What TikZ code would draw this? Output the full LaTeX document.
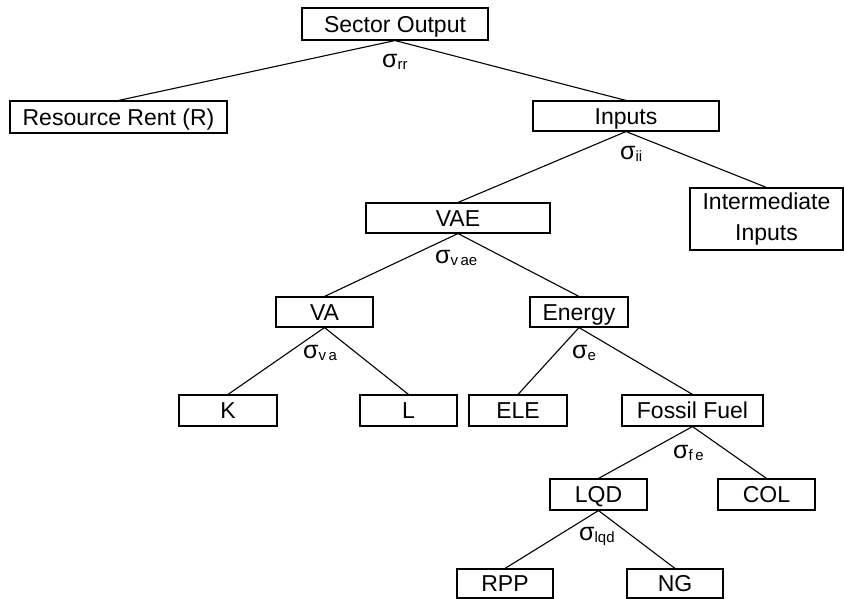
\documentclass[tikz,border=0pt]{standalone}
\usepackage{fontspec}
\setmainfont{Liberation Sans}
\begin{document}
\begin{tikzpicture}[x=1pt,y=-1pt,
  frame/.style={draw, line width=1.1pt, inner sep=0pt, align=center,
    font=\fontsize{23}{30}\selectfont},
  box/.style={frame, minimum height=#1, text height=16.5pt, text depth=0pt},
  box/.default=31pt,
  link/.style={line width=1.1pt},
  sig/.style={anchor=base west, inner sep=0pt, font=\fontsize{25}{25}\selectfont}]
\newcommand{\subsc}[1]{\raisebox{-2pt}{\fontsize{15}{15}\selectfont #1}}
\useasboundingbox (0,0) rectangle (844,599);

% tree nodes
\node[box=32pt, minimum width=186pt] (so)  at (395,24)    {Sector Output};
\node[box=32pt, minimum width=217pt] (rr)  at (118.5,117) {Resource Rent (R)};
\node[box=30pt, minimum width=186pt] (inp) at (626,116)   {Inputs};
\node[frame, minimum width=153pt, minimum height=62pt] (ii) at (766.5,219)
  {\raisebox{1.5pt}{Intermediate}\\Inputs};
\node[box=30pt, minimum width=184pt] (vae) at (458,218)   {VAE};
\node[box=30pt, minimum width=97pt]  (va)  at (324.5,312) {VA};
\node[box=30pt, minimum width=98pt]  (en)  at (579,312)   {Energy};
\node[box, minimum width=98pt]  (k)   at (228,410.5)   {K};
\node[box, minimum width=97pt]  (l)   at (408.5,410.5) {L};
\node[box, minimum width=98pt]  (ele) at (518,410.5)   {ELE};
\node[box, minimum width=141pt] (ff)  at (692.5,410.5) {Fossil Fuel};
\node[box, minimum width=97pt]  (lqd) at (598.5,494.5) {LQD};
\node[box, minimum width=97pt]  (col) at (766.5,494.5) {COL};
\node[box=29pt, minimum width=96pt] (rpp) at (505,583.5) {RPP};
\node[box=29pt, minimum width=96pt] (ng)  at (675,583.5) {NG};

% branches
\draw[link] (so.south) -- (rr.north);
\draw[link] (so.south) -- (inp.north);
\draw[link] (inp.south) -- (vae.north);
\draw[link] (inp.south) -- (ii.north);
\draw[link] (vae.south) -- (va.north);
\draw[link] (vae.south) -- (en.north);
\draw[link] (va.south) -- (k.north);
\draw[link] (va.south) -- (l.north);
\draw[link] (en.south) -- (ele.north);
\draw[link] (en.south) -- (ff.north);
\draw[link] (ff.south) -- (lqd.north);
\draw[link] (ff.south) -- (col.north);
\draw[link] (lqd.south) -- (rpp.north);
\draw[link] (lqd.south) -- (ng.north);

% substitution elasticities
\node[sig] (srr)  at (382,68)  {σ\subsc{rr}};
\node[sig] (sii)  at (620,160) {σ\subsc{ii}};
\node[sig] (svae) at (435,263) {σ\subsc{v\kern2.5pt ae}};
\node[sig] (sva)  at (303,358) {σ\subsc{v\kern2.5pt a}};
\node[sig] (se)   at (572,358) {σ\subsc{e}};
\node[sig] (sfe)  at (673,458) {σ\subsc{f\kern2.5pt e}};
\node[sig] (slqd) at (579,540) {σ\subsc{lqd}};
\end{tikzpicture}
\end{document}
